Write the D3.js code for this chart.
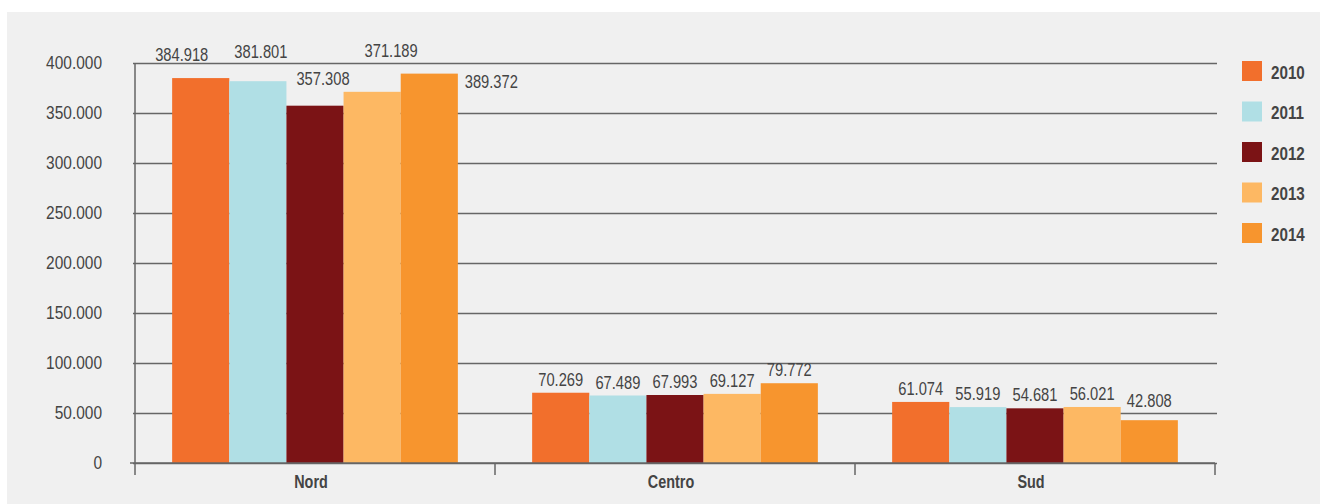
<!DOCTYPE html>
<html>
<head>
<meta charset="utf-8">
<script src="https://cdn.jsdelivr.net/npm/d3@7"></script>
<style>
  body { margin: 0; background: #fff; }
  text { font-family: "Liberation Sans", Arial, sans-serif; fill: #444; }
</style>
</head>
<body>
<script>
const categories = ["Nord", "Centro", "Sud"];
const years = ["2010", "2011", "2012", "2013", "2014"];
const values = {
  "2010": [384918, 70269, 61074],
  "2011": [381801, 67489, 55919],
  "2012": [357308, 67993, 54681],
  "2013": [371189, 69127, 56021],
  "2014": [389372, 79772, 42808]
};
const yTicks = [0, 50000, 100000, 150000, 200000, 250000, 300000, 350000, 400000];
const colors = ["#f26f2c", "#b0dfe5", "#7b1315", "#fdb863", "#f7952e"];

// small nudges so the Nord labels don't collide
const labelNudge = {
  "Nord-2010": [-19, -10], "Nord-2011": [3, -16], "Nord-2012": [8, -14],
  "Nord-2013": [19, -28], "Nord-2014": [62, 21], "Sud-2014": [0, -6]
};

const width = 1320;
const height = 504;
const margin = { top: 63, right: 105, bottom: 41, left: 135 };
const chartWidth = width - margin.left - margin.right;
const chartHeight = height - margin.top - margin.bottom;

const it = d3.formatLocale({ decimal: ",", thousands: ".", grouping: [3], currency: ["€", ""] });
const fmt = it.format(",d");

// no narrow font installed, so squeeze the text horizontally
function condense(sel, s = 0.8) {
  sel.each(function () {
    const t = d3.select(this);
    const x = +t.attr("x") || 0;
    t.attr("x", x / s).attr("transform", `scale(${s},1)`);
  });
}

const svg = d3.select("body")
  .append("svg")
  .attr("width", width)
  .attr("height", height);

svg.append("rect")
  .attr("x", 7).attr("y", 12)
  .attr("width", width - 7).attr("height", height - 12)
  .attr("fill", "#f0f0f0");

const g = svg.append("g")
  .attr("transform", `translate(${margin.left}, ${margin.top})`);

const x0 = d3.scaleBand().domain(categories).range([0, chartWidth]).padding(0);
const x1 = d3.scaleBand().domain(years).range([0, x0.bandwidth()])
  .paddingInner(0).paddingOuter(0.65);
const y = d3.scaleLinear().domain([0, 400000]).range([chartHeight, 0]);
const color = d3.scaleOrdinal().domain(years).range(colors);

// gridlines + y labels
const yAxis = g.append("g")
  .call(d3.axisLeft(y).tickValues(yTicks).tickSize(-chartWidth - 2).tickPadding(33).tickFormat(fmt));
yAxis.select(".domain").remove();
yAxis.selectAll(".tick line")
  .attr("x1", -2)
  .attr("stroke", "#666").attr("stroke-width", 1.5);
yAxis.selectAll(".tick text")
  .attr("font-size", 18).attr("fill", "#4a4a4a")
  .attr("font-family", "'Liberation Sans', Arial, sans-serif")
  .call(condense, 0.86);

// bars
const rows = categories.flatMap((c, i) => years.map(yr => ({ cat: c, year: yr, value: values[yr][i] })));

g.selectAll("rect.bar")
  .data(rows)
  .enter()
  .append("rect")
  .attr("class", "bar")
  .attr("x", d => x0(d.cat) + x1(d.year))
  .attr("y", d => y(d.value))
  .attr("width", x1.bandwidth())
  .attr("height", d => chartHeight - y(d.value))
  .attr("fill", d => color(d.year));

g.selectAll("text.val")
  .data(rows)
  .enter()
  .append("text")
  .attr("class", "val")
  .attr("x", d => x0(d.cat) + x1(d.year) + x1.bandwidth() / 2 + (labelNudge[d.cat + "-" + d.year] || [0, 0])[0])
  .attr("y", d => y(d.value) - 7 + (labelNudge[d.cat + "-" + d.year] || [0, 0])[1])
  .attr("text-anchor", "middle")
  .attr("font-size", 17.5)
  .text(d => fmt(d.value))
  .call(condense, 0.84);

// x axis
const xAxis = g.append("g").attr("transform", `translate(0, ${chartHeight})`);
xAxis.append("line")
  .attr("x1", -5).attr("x2", chartWidth)
  .attr("stroke", "#666").attr("stroke-width", 1.5);
xAxis.append("line")
  .attr("x1", 0).attr("x2", 0).attr("y1", -chartHeight).attr("y2", 12)
  .attr("stroke", "#666").attr("stroke-width", 1.5);
xAxis.selectAll("line.tk")
  .data(categories)
  .enter()
  .append("line")
  .attr("class", "tk")
  .attr("x1", d => x0(d) + x0.bandwidth()).attr("x2", d => x0(d) + x0.bandwidth())
  .attr("y1", 0).attr("y2", 12)
  .attr("stroke", "#666").attr("stroke-width", 1.5);
xAxis.selectAll("text.cat")
  .data(categories)
  .enter()
  .append("text")
  .attr("class", "cat")
  .attr("x", d => x0(d) + x0.bandwidth() / 2 - 4)
  .attr("y", 25)
  .attr("text-anchor", "middle")
  .attr("font-size", 18)
  .attr("font-weight", "bold")
  .text(d => d)
  .call(condense);

// legend
const legend = svg.append("g").attr("transform", "translate(1242, 61)");
const li = legend.selectAll("g")
  .data(years)
  .enter()
  .append("g")
  .attr("transform", (d, i) => `translate(0, ${i * 40.5})`);
li.append("rect")
  .attr("width", 20).attr("height", 20)
  .attr("fill", d => color(d));
li.append("text")
  .attr("x", 29).attr("y", 18)
  .attr("font-size", 19)
  .attr("font-weight", "bold")
  .text(d => d)
  .call(condense);
</script>
</body>
</html>
